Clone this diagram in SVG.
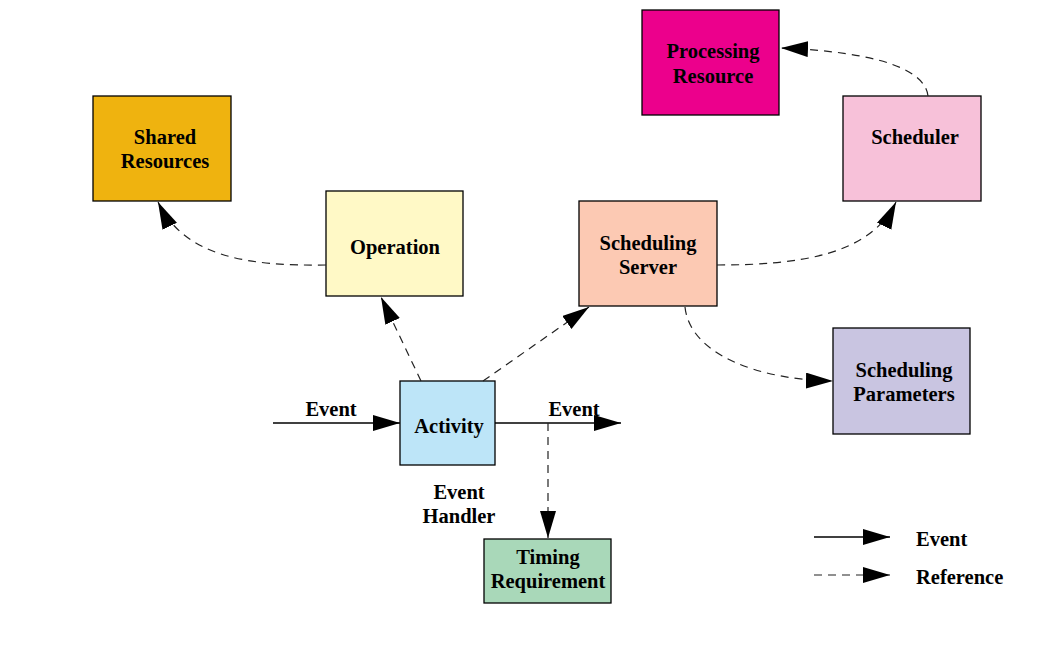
<svg xmlns="http://www.w3.org/2000/svg" width="1057" height="646" viewBox="0 0 1057 646">
<style>
.box{stroke:#000;stroke-width:1.3}
.t{font-family:"Liberation Serif","Times New Roman",serif;font-weight:bold;font-size:20.5px;fill:#000;text-anchor:middle}
.tl{font-family:"Liberation Serif","Times New Roman",serif;font-weight:bold;font-size:20.5px;fill:#000}
.ev{stroke:#000;stroke-width:1.3;fill:none;marker-end:url(#ah)}
.rf{stroke:#222;stroke-width:1.2;fill:none;stroke-dasharray:8 6;marker-end:url(#ah)}
</style>
<defs>
<marker id="ah" markerUnits="userSpaceOnUse" markerWidth="28" markerHeight="18" refX="27" refY="8" orient="auto">
<path d="M0,0 L27,8 L0,16 z" fill="#000"/>
</marker>
</defs>
<g id="shared-resources"><rect class="box" x="93" y="96" width="138" height="105" fill="#EFB30F"/><text class="t" x="165" y="144">Shared</text><text class="t" x="165" y="168">Resources</text></g>
<g id="operation"><rect class="box" x="326" y="191" width="137" height="105" fill="#FFF9C6"/><text class="t" x="395" y="254">Operation</text></g>
<g id="processing-resource"><rect class="box" x="642" y="10" width="137" height="105" fill="#EC008C"/><text class="t" x="713" y="58">Processing</text><text class="t" x="713" y="83">Resource</text></g>
<g id="scheduler"><rect class="box" x="843" y="96" width="138" height="105" fill="#F7C1D9"/><text class="t" x="915" y="144">Scheduler</text></g>
<g id="scheduling-server"><rect class="box" x="579" y="201" width="138" height="105" fill="#FCC9B3"/><text class="t" x="648" y="250">Scheduling</text><text class="t" x="648" y="274">Server</text></g>
<g id="scheduling-parameters"><rect class="box" x="833" y="328" width="137" height="106" fill="#C9C5E1"/><text class="t" x="904" y="377">Scheduling</text><text class="t" x="904" y="401">Parameters</text></g>
<g id="activity"><rect class="box" x="400" y="381" width="95" height="84" fill="#BDE5F8"/><text class="t" x="449" y="433">Activity</text></g>
<g id="timing-requirement"><rect class="box" x="484" y="539" width="127" height="64" fill="#A9D8B9"/><text class="t" x="548" y="564">Timing</text><text class="t" x="548" y="588">Requirement</text></g>
<g id="event-handler-label"><text class="t" x="459" y="499">Event</text><text class="t" x="459" y="523">Handler</text></g>
<g id="connectors">
<path class="ev" d="M273,423 L400,423"/>
<text class="t" x="331" y="416">Event</text>
<path class="ev" d="M495,423 L621,423"/>
<text class="t" x="574" y="416">Event</text>
<path class="rf" d="M548,423 L548,538"/>
<path class="rf" d="M421,381 L381,297"/>
<path class="rf" d="M483,381 L589,307"/>
<path class="rf" d="M326,265 C250,266 185,258 158,202"/>
<path class="rf" d="M717,265 C800,265 870,255 896,202"/>
<path class="rf" d="M928,96 C925,70 880,52 781,48"/>
<path class="rf" d="M685,307 C690,355 760,380 833,381"/>
</g>
<g id="legend">
<path class="ev" d="M814,537 L890,537"/>
<text class="tl" x="916" y="546">Event</text>
<path class="rf" d="M814,575 L890,575" stroke-dasharray="7 7"/>
<text class="tl" x="916" y="584">Reference</text>
</g>
</svg>
